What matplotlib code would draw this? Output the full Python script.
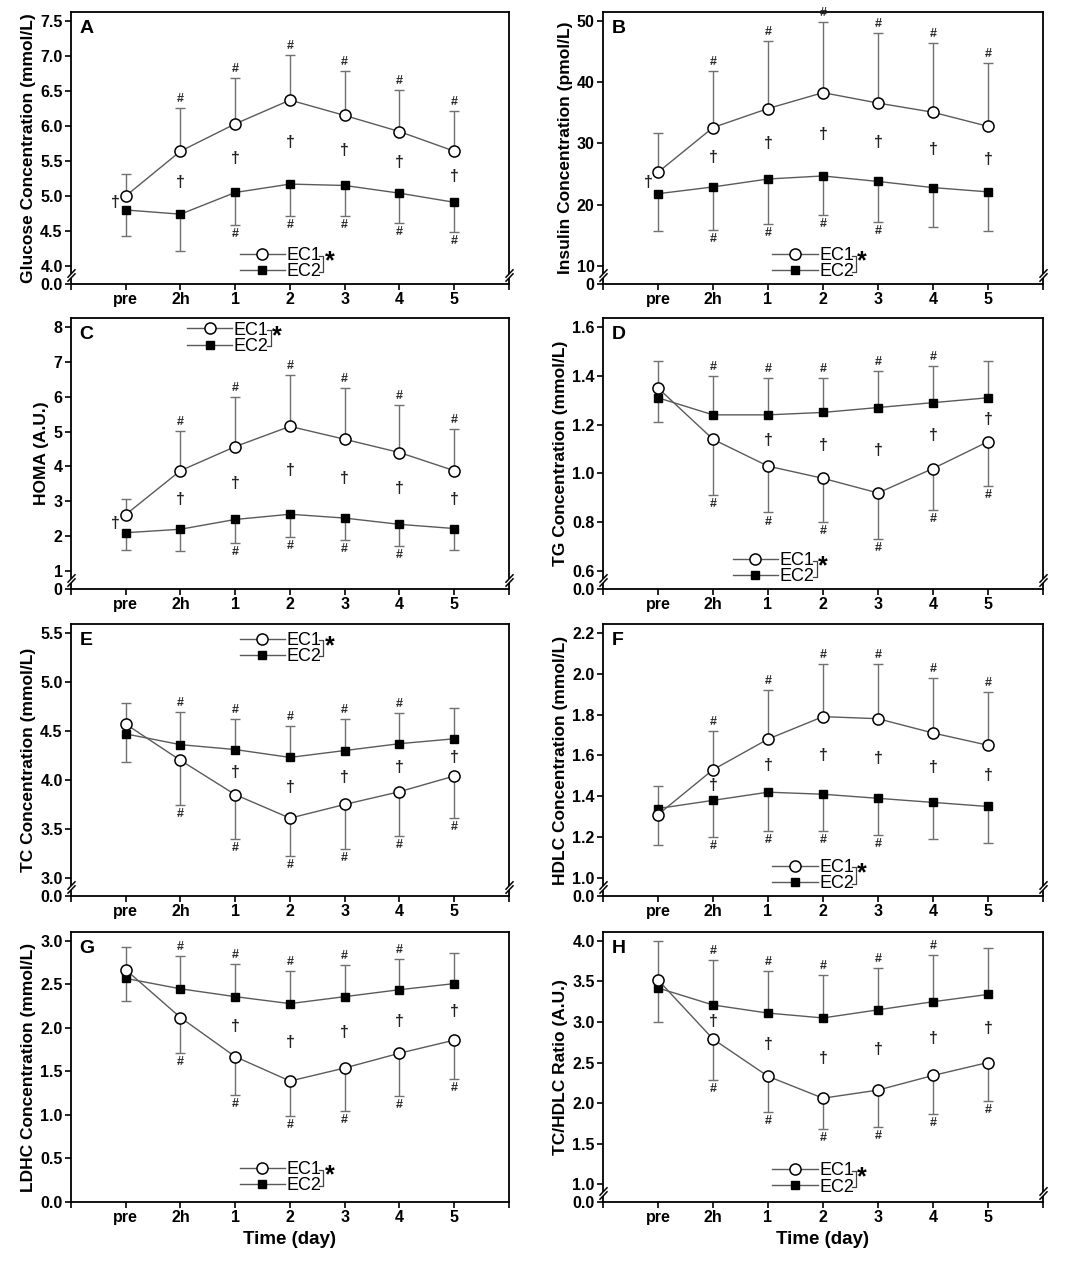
"""Eight-panel time course (EC1 vs EC2) with broken y axes, rebuilt from values read off the figure."""
import numpy as np
import matplotlib

matplotlib.use("Agg")
import matplotlib.pyplot as plt  # noqa: E402
from matplotlib.path import Path  # noqa: E402

plt.rcParams["font.family"] = ["Liberation Sans", "DejaVu Sans"]

days = ["pre", "2h", "1", "2", "3", "4", "5"]

# A: glucose (mmol/L)
glu_ec1 = [5.00, 5.64, 6.03, 6.37, 6.15, 5.92, 5.64]
glu_ec1_sd = [0.32, 0.61, 0.66, 0.64, 0.63, 0.59, 0.58]
glu_ec2 = [4.80, 4.74, 5.05, 5.17, 5.15, 5.04, 4.91]
glu_ec2_sd = [0.37, 0.53, 0.46, 0.45, 0.43, 0.43, 0.42]

# B: insulin (pmol/L)
ins_ec1 = [25.3, 32.6, 35.7, 38.3, 36.6, 35.1, 32.8]
ins_ec1_sd = [6.4, 9.3, 11.0, 11.5, 11.5, 11.3, 10.4]
ins_ec2 = [21.8, 22.9, 24.2, 24.7, 23.8, 22.8, 22.1]
ins_ec2_sd = [6.1, 7.1, 7.3, 6.4, 6.6, 6.5, 6.4]

# C: HOMA
homa_ec1 = [2.62, 3.88, 4.57, 5.15, 4.78, 4.40, 3.88]
homa_ec1_sd = [0.46, 1.14, 1.41, 1.47, 1.47, 1.35, 1.19]
homa_ec2 = [2.10, 2.20, 2.48, 2.63, 2.52, 2.34, 2.22]
homa_ec2_sd = [0.50, 0.61, 0.68, 0.65, 0.62, 0.61, 0.61]

# D: TG (mmol/L)
tg_ec1 = [1.35, 1.14, 1.03, 0.98, 0.92, 1.02, 1.13]
tg_ec1_sd = [0.14, 0.23, 0.19, 0.18, 0.19, 0.17, 0.18]
tg_ec2 = [1.31, 1.24, 1.24, 1.25, 1.27, 1.29, 1.31]
tg_ec2_sd = [0.15, 0.16, 0.15, 0.14, 0.15, 0.15, 0.15]

# E: TC (mmol/L)
tc_ec1 = [4.57, 4.20, 3.85, 3.61, 3.75, 3.88, 4.04]
tc_ec1_sd = [0.39, 0.46, 0.45, 0.39, 0.45, 0.45, 0.43]
tc_ec2 = [4.47, 4.36, 4.31, 4.23, 4.30, 4.37, 4.42]
tc_ec2_sd = [0.32, 0.33, 0.31, 0.32, 0.32, 0.31, 0.31]

# F: HDLC (mmol/L)
hdl_ec1 = [1.31, 1.53, 1.68, 1.79, 1.78, 1.71, 1.65]
hdl_ec1_sd = [0.14, 0.19, 0.24, 0.26, 0.27, 0.27, 0.26]
hdl_ec2 = [1.34, 1.38, 1.42, 1.41, 1.39, 1.37, 1.35]
hdl_ec2_sd = [0.18, 0.18, 0.19, 0.18, 0.18, 0.18, 0.18]

# G: LDHC (mmol/L)
ldl_ec1 = [2.67, 2.12, 1.67, 1.39, 1.54, 1.71, 1.86]
ldl_ec1_sd = [0.36, 0.41, 0.44, 0.40, 0.49, 0.49, 0.45]
ldl_ec2 = [2.57, 2.45, 2.36, 2.28, 2.36, 2.44, 2.51]
ldl_ec2_sd = [0.36, 0.38, 0.38, 0.37, 0.36, 0.35, 0.35]

# H: TC/HDLC ratio
ratio_ec1 = [3.52, 2.79, 2.33, 2.06, 2.16, 2.34, 2.50]
ratio_ec1_sd = [0.52, 0.51, 0.44, 0.38, 0.45, 0.47, 0.47]
ratio_ec2 = [3.42, 3.21, 3.11, 3.05, 3.15, 3.25, 3.34]
ratio_ec2_sd = [0.58, 0.55, 0.52, 0.53, 0.52, 0.58, 0.57]

# significance marks: indices of time points carrying '#' (per group) and '†'
hash_all = [1, 2, 3, 4, 5, 6]
glu_hash2 = [2, 3, 4, 5, 6]
ins_hash2 = [1, 2, 3, 4]
homa_hash2 = [2, 3, 4, 5]
tg_hash2 = [1, 2, 3, 4, 5]
tc_hash2 = [1, 2, 3, 4, 5]
hdl_hash2 = [1, 2, 3, 4]
ldl_hash2 = [1, 2, 3, 4, 5]
ratio_hash2 = [1, 2, 3, 4, 5]
dag_all = [0, 1, 2, 3, 4, 5, 6]
dag_from1 = [1, 2, 3, 4, 5, 6]
dag_from2 = [2, 3, 4, 5, 6]

panels = [
    dict(letter="A", ylabel="Glucose Concentration (mmol/L)", ec1=glu_ec1, sd1=glu_ec1_sd,
         ec2=glu_ec2, sd2=glu_ec2_sd, up1=True, h1=hash_all, h2=glu_hash2, dag=dag_all,
         lo=4.0, top=7.5, step=0.5, fmt="%.1f", leg=(0.385, 0.075)),
    dict(letter="B", ylabel="Insulin Concentration (pmol/L)", ec1=ins_ec1, sd1=ins_ec1_sd,
         ec2=ins_ec2, sd2=ins_ec2_sd, up1=True, h1=hash_all, h2=ins_hash2, dag=dag_all,
         lo=10, top=50, step=10, fmt="%d", leg=(0.385, 0.075)),
    dict(letter="C", ylabel="HOMA (A.U.)", ec1=homa_ec1, sd1=homa_ec1_sd,
         ec2=homa_ec2, sd2=homa_ec2_sd, up1=True, h1=hash_all, h2=homa_hash2, dag=dag_all,
         lo=1, top=8, step=1, fmt="%d", leg=(0.265, 0.925)),
    dict(letter="D", ylabel="TG Concentration (mmol/L)", ec1=tg_ec1, sd1=tg_ec1_sd,
         ec2=tg_ec2, sd2=tg_ec2_sd, up1=False, h1=hash_all, h2=tg_hash2, dag=dag_from2,
         lo=0.6, top=1.6, step=0.2, fmt="%.1f", leg=(0.295, 0.075)),
    dict(letter="E", ylabel="TC Concentration (mmol/L)", ec1=tc_ec1, sd1=tc_ec1_sd,
         ec2=tc_ec2, sd2=tc_ec2_sd, up1=False, h1=hash_all, h2=tc_hash2, dag=dag_from2,
         lo=3.0, top=5.5, step=0.5, fmt="%.1f", leg=(0.385, 0.91)),
    dict(letter="F", ylabel="HDLC Concentration (mmol/L)", ec1=hdl_ec1, sd1=hdl_ec1_sd,
         ec2=hdl_ec2, sd2=hdl_ec2_sd, up1=True, h1=hash_all, h2=hdl_hash2, dag=dag_from1,
         lo=1.0, top=2.2, step=0.2, fmt="%.1f", leg=(0.385, 0.075)),
    dict(letter="G", ylabel="LDHC Concentration (mmol/L)", ec1=ldl_ec1, sd1=ldl_ec1_sd,
         ec2=ldl_ec2, sd2=ldl_ec2_sd, up1=False, h1=hash_all, h2=ldl_hash2, dag=dag_from2,
         lo=0.0, top=3.0, step=0.5, fmt="%.1f", leg=(0.385, 0.09)),
    dict(letter="H", ylabel="TC/HDLC Ratio (A.U.)", ec1=ratio_ec1, sd1=ratio_ec1_sd,
         ec2=ratio_ec2, sd2=ratio_ec2_sd, up1=False, h1=hash_all, h2=ratio_hash2, dag=dag_from1,
         lo=1.0, top=4.0, step=0.5, fmt="%.1f", leg=(0.385, 0.085)),
]

LINE = "#5a5a5a"
BAR = "#707070"

# axes rectangles (figure fraction): two columns, four rows
cols = [(0.0662, 0.4086), (0.5625, 0.4104)]
rows = [(0.7748, 0.2157), (0.5329, 0.2149), (0.2895, 0.2157), (0.0468, 0.2141)]

BREAK = Path([(-1, -1.55), (1, 0.55), (-1, -0.55), (1, 1.55)],
             [Path.MOVETO, Path.LINETO, Path.MOVETO, Path.LINETO])
BREAK_FILL = Path([(-1, -1.55), (1, 0.55), (1, 1.55), (-1, -0.55), (-1, -1.55)])


def broken_scale(lo, gap):
    def fwd(y):
        y = np.asarray(y, dtype=float)
        return np.where(y >= lo, y, lo - gap + y * gap / lo)

    def inv(t):
        t = np.asarray(t, dtype=float)
        return np.where(t >= lo, t, (t - lo + gap) * lo / gap)
    return fwd, inv


def draw_panel(ax, p):
    x = np.arange(len(days))
    lo, top, step = p["lo"], p["top"], p["step"]
    if lo > 0:
        unit = (top - lo) / 245.0
        fwd, inv = broken_scale(lo, 18 * unit)
        ax.set_yscale("function", functions=(fwd, inv))
        ticks = [0] + list(np.arange(lo, top + step / 2, step))
    else:
        unit = top / 262.0
        ticks = list(np.arange(0, top + step / 2, step))
    ax.set_ylim(0, top + 9 * unit)
    ax.set_xlim(-1, 7)

    ec1, ec2 = np.array(p["ec1"]), np.array(p["ec2"])
    s1 = 1 if p["up1"] else -1
    end1 = ec1 + s1 * np.array(p["sd1"])
    end2 = ec2 - s1 * np.array(p["sd2"])
    for ends, means in ((end1, ec1), (end2, ec2)):
        ax.vlines(x, means, ends, color=BAR, lw=1.0, zorder=2)
        ax.plot(x, ends, ls="none", marker="_", ms=7, mew=1.0, color=BAR, zorder=2)

    l2, = ax.plot(x, ec2, color=LINE, lw=1.0, marker="s", ms=6, mfc="black", mec="black",
                  zorder=3, label="EC2")
    l1, = ax.plot(x, ec1, color=LINE, lw=1.0, marker="o", ms=8, mfc="white", mec="black",
                  mew=1.1, zorder=4, label="EC1")

    for idx, ends, s in ((p["h1"], end1, s1), (p["h2"], end2, -s1)):
        for i in idx:
            ax.annotate("#", (x[i], ends[i]), xytext=(0, 6.5 * s), textcoords="offset points",
                        ha="center", va="center", fontsize=9, color="#2a2a2a",
                        fontweight="bold")
    for i in p["dag"]:
        xi = x[i] - 0.18 if i == 0 else x[i]
        ax.text(xi, (ec1[i] + ec2[i]) / 2, "\u2020", ha="center", va="center",
                fontsize=11.5, fontweight="bold", color="#222222")

    ax.set_yticks(ticks)
    ax.set_yticklabels([p["fmt"] % t for t in ticks])
    ax.set_xticks(range(-1, 8))
    ax.set_xticklabels([""] + days + [""])
    ax.tick_params(direction="out", length=4, width=1.2, labelsize=11.5, pad=2)
    ax.tick_params(axis="y", right=False)
    for lab in ax.get_xticklabels() + ax.get_yticklabels():
        lab.set_fontweight("bold")
    for sp in ax.spines.values():
        sp.set_linewidth(1.3)
    ax.set_ylabel(p["ylabel"], fontsize=12.5, fontweight="bold", labelpad=3)
    ax.text(0.02, 0.97, p["letter"], transform=ax.transAxes, ha="left", va="top",
            fontsize=14, fontweight="bold")

    if lo > 0:
        for xs in (0, 1):
            ax.plot([xs], [lo / 2], transform=ax.get_yaxis_transform(), marker=BREAK_FILL,
                    ms=9, mfc="white", mec="none", clip_on=False, zorder=9)
            ax.plot([xs], [lo / 2], transform=ax.get_yaxis_transform(), marker=BREAK,
                    ms=9, mec="black", mew=1.1, clip_on=False, zorder=10)

    leg = ax.legend(handles=[l1, l2], loc="center left", bbox_to_anchor=p["leg"],
                    frameon=False, fontsize=13, handlelength=2.5, handletextpad=0.1,
                    labelspacing=-0.05, borderpad=0, borderaxespad=0, numpoints=1)
    return leg


fig = plt.figure(figsize=(10.72, 12.61), dpi=100)
axes, legs = [], []
for k, p in enumerate(panels):
    cx, cw = cols[k % 2]
    ry, rh = rows[k // 2]
    ax = fig.add_axes([cx, ry, cw, rh])
    legs.append(draw_panel(ax, p))
    axes.append(ax)
    if k >= 6:
        ax.set_xlabel("Time (day)", fontsize=13.5, fontweight="bold", labelpad=4)

# bracket + asterisk next to each legend
fig.canvas.draw()
r = fig.canvas.get_renderer()
for ax, leg in zip(axes, legs):
    inv = ax.transAxes.inverted()
    bbs = [t.get_window_extent(r) for t in leg.get_texts()]
    xr = max(b.x1 for b in bbs) + 2
    y1 = (bbs[0].y0 + bbs[0].y1) / 2
    y2 = (bbs[1].y0 + bbs[1].y1) / 2
    pts = inv.transform([(xr - 4, y1), (xr, y1), (xr, y2), (xr - 4, y2)])
    ax.plot(pts[:, 0], pts[:, 1], transform=ax.transAxes, color="#444444", lw=0.9,
            clip_on=False)
    sx, sy = inv.transform((xr + 1, (y1 + y2) / 2 + 2))
    ax.text(sx, sy, "*", transform=ax.transAxes, ha="left", va="center", fontsize=18,
            fontweight="bold")

fig.savefig("out.png", dpi=100)
